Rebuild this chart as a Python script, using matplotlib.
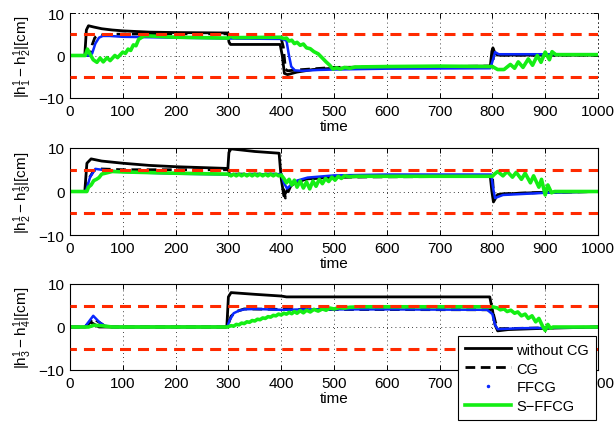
import matplotlib
matplotlib.use("Agg")
import matplotlib.pyplot as plt
from matplotlib.lines import Line2D

plt.rcParams['font.family'] = ['Liberation Sans', 'DejaVu Sans']
plt.rcParams['font.size'] = 11
plt.rcParams['mathtext.default'] = 'regular'

# ---------------- panel 1 : |h1 - h2| ----------------
t1_wo = [0, 28, 31, 35, 45, 60, 80, 100, 150, 200, 299, 301, 304, 398, 402, 406, 412, 430, 460, 500, 600, 700, 796, 799, 801, 805, 810, 1000]
v1_wo = [0, 0, 6.0, 7.0, 6.7, 6.3, 6.0, 5.8, 5.5, 5.4, 5.3, 3.2, 2.6, 2.6, 0.0, -4.2, -4.5, -3.9, -3.3, -3.0, -2.8, -2.6, -2.5, 1.0, 1.8, 0.5, 0.1, 0.1]
t1_cg = [0, 38, 42, 47, 55, 80, 150, 300, 302, 400, 404, 408, 412, 430, 500, 800, 803, 808, 1000]
v1_cg = [0, 0, 2.5, 4.2, 4.8, 5.0, 5.1, 5.1, 4.2, 4.0, 2.0, -3.2, -3.6, -3.4, -2.8, -2.5, 0.8, 0.1, 0.1]
t1_ff = [0, 38, 42, 48, 55, 62, 75, 100, 200, 300, 400, 410, 414, 419, 426, 440, 470, 500, 600, 796, 801, 805, 812, 1000]
v1_ff = [0, 0, 0.5, 2.8, 4.2, 4.6, 4.6, 4.4, 4.2, 4.0, 3.9, 3.5, 0.5, -2.6, -3.5, -3.6, -3.4, -3.3, -3.1, -3.0, -1.0, 0.8, 0.3, 0.3]
t1_sf = [0, 29, 33, 38, 44, 51, 57, 63, 70, 76, 85, 90, 100, 105, 110, 115, 120, 125, 130, 135, 140, 150, 200, 300, 304, 310, 398,
         405, 410, 415, 420, 425, 430, 436, 442, 448, 455, 462, 470, 478, 485, 492, 498, 505, 512, 520, 530, 540, 600, 700,
         800, 810, 822, 834, 842, 849, 858, 868, 876, 885, 892, 900, 908, 913, 920, 1000]
v1_sf = [0, 0, 1.5, 0.3, -1.0, -1.6, -0.6, -1.5, -0.5, -1.2, 0.0, -0.5, 0.8, 0.5, 1.5, 1.2, 2.5, 2.3, 3.8, 4.2, 4.6, 4.6, 4.3, 4.1, 4.6, 4.2, 4.3,
         4.0, 4.1, 3.4, 3.6, 2.8, 3.1, 2.4, 2.7, 1.8, 1.6, 0.9, 0.4, -0.6, -1.5, -2.3, -3.2, -2.9, -3.2, -2.8, -3.0, -2.7, -2.6, -2.5,
         -2.6, -3.3, -3.3, -2.1, -3.0, -1.5, -2.8, -0.8, -2.3, 0.0, -1.6, 0.8, -1.0, 0.9, 0.2, 0.2]

# ---------------- panel 2 : |h2 - h3| ----------------
t2_wo = [0, 28, 32, 40, 60, 100, 150, 200, 299, 301, 305, 350, 396, 400, 405, 415, 430, 450, 500, 600, 796, 799, 802, 810, 850, 900, 1000]
v2_wo = [0, 0, 6.5, 7.5, 7.0, 6.5, 6.0, 5.7, 5.3, 9.0, 9.8, 9.2, 8.8, 3.0, -1.0, 1.0, 2.3, 2.9, 3.3, 3.5, 3.5, 0.0, -2.4, -0.7, -0.4, -0.2, 0.0]
t2_cg = [0, 30, 36, 45, 55, 100, 300, 302, 400, 404, 408, 420, 450, 500, 800, 803, 810, 900, 1000]
v2_cg = [0, 0, 3.0, 4.8, 5.2, 5.0, 5.0, 4.0, 4.0, 1.0, -1.5, 1.8, 3.0, 3.3, 3.5, -1.8, -0.6, -0.2, 0.0]
t2_ff = [0, 30, 38, 48, 60, 100, 200, 300, 400, 405, 411, 420, 430, 450, 500, 600, 798, 801, 805, 820, 900, 1000]
v2_ff = [0, 0, 3.3, 5.2, 5.0, 4.5, 4.1, 3.9, 4.0, 2.0, 0.7, 1.6, 2.5, 3.2, 3.7, 3.9, 3.9, 1.0, -1.5, -0.8, -0.3, 0.0]
t2_sf = [0, 32, 35, 40, 45, 50, 55, 60, 70, 80, 100, 200, 300, 305, 310, 315, 320, 325, 330, 335, 340, 345, 350, 355, 360, 365, 370,
         375, 380, 385, 390, 395, 400, 405, 410, 415, 420, 425, 430, 436, 442, 448, 454, 460, 466, 472, 478, 484, 490, 496, 502, 508,
         514, 520, 530, 540, 600, 800, 804, 810, 820, 828, 838, 845, 855, 862, 872, 878, 888, 893, 900, 905, 912, 918, 1000]
v2_sf = [0, 0, 1.0, 1.5, 2.5, 2.8, 3.2, 4.0, 4.3, 4.6, 4.5, 4.2, 4.0, 3.6, 4.0, 3.6, 4.0, 3.6, 4.0, 3.6, 4.0, 3.6, 4.0, 3.6, 4.0, 3.6, 4.0,
         3.6, 4.0, 3.6, 4.0, 3.6, 3.8, 3.0, 2.0, 2.8, 1.5, 2.6, 1.0, 2.4, 0.8, 2.2, 0.6, 2.4, 1.2, 2.8, 1.8, 3.0, 2.3, 3.3, 2.6, 3.5,
         3.0, 3.6, 3.4, 3.5, 3.5, 3.5, 4.0, 4.6, 3.6, 4.6, 3.3, 4.4, 2.8, 4.2, 2.0, 3.6, 1.0, 2.8, -0.8, 1.5, -0.3, 0.0, 0.0]

# ---------------- panel 3 : |h3 - h4| ----------------
t3_wo = [0, 28, 38, 55, 297, 300, 305, 350, 400, 410, 600, 795, 800, 805, 810, 830, 900, 1000]
v3_wo = [0, 0, 1.2, 0, 0, 7.0, 8.0, 7.6, 7.2, 7.0, 7.0, 7.0, 4.0, 0.5, -0.9, -0.6, -0.3, 0.0]
t3_cg = [0, 30, 44, 65, 80, 298, 305, 315, 330, 400, 800, 806, 812, 900, 1000]
v3_cg = [0, 0, 2.0, 0.3, 0, 0, 2.5, 3.6, 4.2, 4.1, 4.0, 1.0, -0.4, -0.2, 0.0]
t3_ff = [0, 28, 44, 55, 65, 80, 298, 302, 310, 320, 330, 350, 400, 450, 600, 790, 800, 805, 810, 850, 900, 1000]
v3_ff = [0, 0, 2.6, 1.2, 0.3, 0, 0, 1.5, 3.2, 3.8, 4.1, 4.2, 4.0, 4.1, 4.1, 4.0, 3.0, 0.5, -0.5, -0.3, -0.2, 0.0]
t3_sf = [0, 35, 45, 60, 80, 298, 305, 310, 315, 320, 325, 330, 335, 340, 345, 350, 355, 360, 365, 370, 375, 380, 385, 390, 395, 400,
         405, 410, 415, 420, 425, 430, 436, 442, 448, 455, 462, 470, 478, 485, 492, 500, 510, 520, 530, 550, 600, 700,
         800, 810, 815, 822, 828, 835, 842, 848, 855, 862, 868, 875, 882, 888, 895, 900, 905, 910, 915, 1000]
v3_sf = [0, 0, 0.4, 0.3, 0.0, 0.0, 0.3, 0.2, 0.6, 0.5, 0.9, 0.8, 1.2, 1.1, 1.5, 1.4, 1.8, 1.7, 2.1, 2.0, 2.4, 2.3, 2.7, 2.6, 3.0, 2.8,
         3.2, 3.0, 3.4, 3.1, 3.6, 3.2, 3.8, 3.3, 3.9, 3.5, 4.1, 3.7, 4.2, 3.9, 4.4, 4.2, 4.5, 4.4, 4.6, 4.7, 4.7, 4.7,
         4.7, 4.4, 4.0, 4.2, 3.6, 3.9, 3.2, 3.5, 2.6, 3.0, 2.0, 2.6, 1.2, 2.0, 0.2, -0.8, 0.6, -0.3, 0.0, 0.0]

limit = 5
panels = [
    (r'$|h_1^1-h_2^1|[cm]$', t1_wo, v1_wo, t1_cg, v1_cg, t1_ff, v1_ff, t1_sf, v1_sf),
    (r'$|h_2^1-h_3^1|[cm]$', t2_wo, v2_wo, t2_cg, v2_cg, t2_ff, v2_ff, t2_sf, v2_sf),
    (r'$|h_3^1-h_4^1|[cm]$', t3_wo, v3_wo, t3_cg, v3_cg, t3_ff, v3_ff, t3_sf, v3_sf),
]

W, H = 616, 431
fig = plt.figure(figsize=(W / 100, H / 100), dpi=100)

# axes boxes in pixels: (top, bottom)
boxes = [(14, 99), (149, 236), (285, 371)]
left_px, right_px = 70, 598

red = '#ff2a00'
blue = '#0a28ff'
green = '#14ee14'

for i, ((top, bot), p) in enumerate(zip(boxes, panels)):
    label, two, vwo, tcg, vcg, tff, vff, tsf, vsf = p
    ax = fig.add_axes([left_px / W, 1 - bot / H, (right_px - left_px) / W, (bot - top) / H])
    ax.plot(two, vwo, color='black', lw=2.0, zorder=2)
    ax.plot(tcg, vcg, color='black', lw=2.0, ls=(0, (3.5, 2.0)), zorder=2.1)
    ax.plot(tff, vff, color=blue, lw=1.8, zorder=2.2)
    ax.plot(tsf, vsf, color=green, lw=2.6, zorder=2.3)
    ax.plot([0, 1000], [limit, limit], color=red, lw=2.2, ls=(1.5, (3.6, 2.3)), zorder=3)
    ax.plot([0, 1000], [-limit, -limit], color=red, lw=2.2, ls=(1.5, (3.6, 2.3)), zorder=3)

    ax.set_xlim(0, 1000)
    ax.set_ylim(-10, 10)
    ax.set_xticks(range(0, 1001, 100))
    ax.set_yticks([-10, 0, 10])
    ax.tick_params(direction='in', length=3.5, width=0.7, pad=4, top=True, right=True)
    ax.grid(True, color='black', lw=0.6, ls=(0, (1, 4)))
    ax.set_xlabel('time', labelpad=1)
    ax.set_ylabel(label, labelpad=3)
    for s in ax.spines.values():
        s.set_linewidth(0.8)
    if i == 0:
        for side in ('top', 'right'):
            ax.spines[side].set_linestyle((0, (1, 4)))
            ax.spines[side].set_linewidth(0.6)

handles = [
    Line2D([], [], color='black', lw=2.0),
    Line2D([], [], color='black', lw=2.0, ls=(0, (3.5, 2.0))),
    Line2D([], [], color=blue, marker='.', ls='none', markersize=3),
    Line2D([], [], color=green, lw=2.6),
]
leg = fig.legend(handles, ['without CG', 'CG', 'FFCG', 'S\u2212FFCG'],
                 loc='upper left', bbox_to_anchor=(458 / W, 1 - 337 / H),
                 borderaxespad=0, fancybox=False, framealpha=1, edgecolor='black',
                 fontsize=10.5, handlelength=3.2, handletextpad=0.35,
                 labelspacing=0.34, borderpad=0.45)
leg.get_frame().set_linewidth(0.8)
leg.set_zorder(10)

fig.savefig('out.png', dpi=100)
